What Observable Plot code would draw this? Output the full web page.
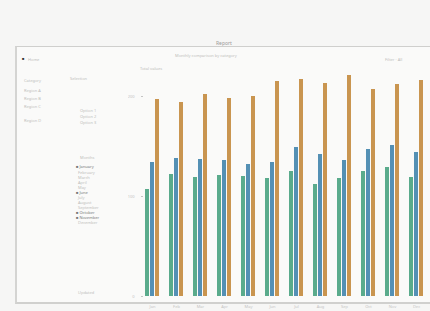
<!DOCTYPE html>
<html>
<head>
<meta charset="utf-8">
<script src="https://cdn.jsdelivr.net/npm/d3@7"></script>
<script src="https://cdn.jsdelivr.net/npm/@observablehq/plot@0.6"></script>
<style>
  html, body { margin: 0; padding: 0; }
  body { width: 430px; height: 311px; background: #f6f6f5; position: relative; overflow: hidden; font-family: "Noto Sans", sans-serif; }
  #frame { position: absolute; left: 15px; top: 46px; width: 430px; height: 255px; background: #fafaf9; border-left: 2px solid #d4d4d2; border-top: 1px solid #cfcfcd; border-bottom: 2px solid #d0d0ce; }
  .t { position: absolute; color: #bdbdbb; font-size: 4px; white-space: nowrap; }
  #chart { position: absolute; left: 128px; top: 60px; }
</style>
</head>
<body>
<div id="frame"></div>
<div class="t" style="left:216px;top:40px;font-size:5px;color:#9a9a98">Report</div>
<div class="t" style="left:175px;top:53px;">Monthly comparison by category</div>
<div class="t" style="left:22px;top:56px;color:#333">■</div>
<div class="t" style="left:28px;top:57px;">Home</div>
<div class="t" style="left:385px;top:57px;">Filter · All</div>
<div class="t" style="left:140px;top:66px;">Total values</div>
<div class="t" style="left:24px;top:78px;">Category</div>
<div class="t" style="left:70px;top:76px;">Selection</div>
<div class="t" style="left:24px;top:88px;">Region A</div>
<div class="t" style="left:24px;top:96px;">Region B</div>
<div class="t" style="left:24px;top:104px;">Region C</div>
<div class="t" style="left:80px;top:108px;">Option 1</div>
<div class="t" style="left:80px;top:114px;">Option 2</div>
<div class="t" style="left:80px;top:120px;">Option 3</div>
<div class="t" style="left:24px;top:118px;">Region D</div>
<div class="t" style="left:80px;top:155px;">Months</div>
<div class="t" style="left:76px;top:164px;color:#777">■ January</div>
<div class="t" style="left:78px;top:170px;">February</div>
<div class="t" style="left:78px;top:175px;">March</div>
<div class="t" style="left:78px;top:180px;">April</div>
<div class="t" style="left:78px;top:185px;">May</div>
<div class="t" style="left:76px;top:190px;color:#777">■ June</div>
<div class="t" style="left:78px;top:195px;">July</div>
<div class="t" style="left:78px;top:200px;">August</div>
<div class="t" style="left:78px;top:205px;">September</div>
<div class="t" style="left:76px;top:210px;color:#777">■ October</div>
<div class="t" style="left:76px;top:215px;color:#777">■ November</div>
<div class="t" style="left:78px;top:220px;">December</div>
<div class="t" style="left:78px;top:290px;">Updated</div>
<div id="chart"></div>
<script>
const months = ["Jan","Feb","Mar","Apr","May","Jun","Jul","Aug","Sep","Oct","Nov","Dec"];
const series = ["A","B","C"];
const seriesA = [107,122,119,121,120,118,125,112,118,125,129,119];
const seriesB = [134,138,137,136,132,134,149,142,136,147,151,144];
const seriesC = [197,194,202,198,200,215,217,213,221,207,212,216];
const colors = ["#5aab8c","#5490b4","#c99550"];
const data = [];
months.forEach((m, i) => {
  data.push({month: m, series: "A", value: seriesA[i]});
  data.push({month: m, series: "B", value: seriesB[i]});
  data.push({month: m, series: "C", value: seriesC[i]});
});
const chart = Plot.plot({
  width: 302,
  height: 250,
  marginLeft: 14,
  marginRight: 4,
  marginTop: 10,
  marginBottom: 14,
  style: {background: "transparent", fontSize: "4px", color: "#c4c4c4"},
  fx: {domain: months, padding: 0.26, label: null, tickSize: 0},
  x: {domain: series, padding: 0.12, axis: null},
  y: {domain: [0, 226], ticks: 3, label: null, tickSize: 2},
  color: {domain: series, range: colors},
  marks: [
    Plot.barY(data, {fx: "month", x: "series", y: "value", fill: "series"})
  ]
});
document.getElementById("chart").appendChild(chart);
</script>
</body>
</html>
